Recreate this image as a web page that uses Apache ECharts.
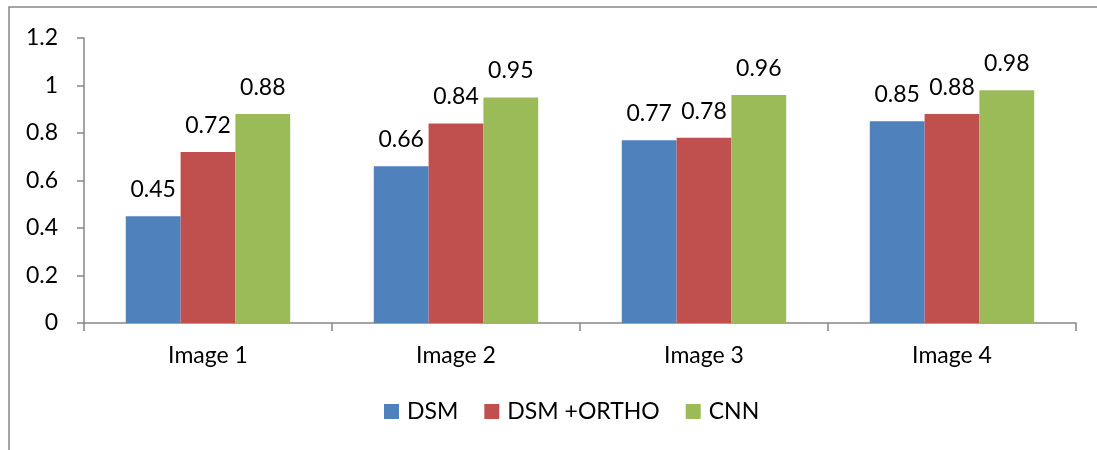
<!DOCTYPE html>
<html>
<head>
<meta charset="utf-8">
<script src="https://cdn.jsdelivr.net/npm/echarts@6/dist/echarts.min.js"></script>
<style>
  html, body { margin: 0; padding: 0; background: #fff; }
  #chart { width: 1097px; height: 450px; }
</style>
</head>
<body>
<div id="chart"></div>
<script>
const categories = ["Image 1", "Image 2", "Image 3", "Image 4"];
const dsm = [0.45, 0.66, 0.77, 0.85];
const dsmOrtho = [0.72, 0.84, 0.78, 0.88];
const cnn = [0.88, 0.95, 0.96, 0.98];

const font = "Lato, 'Open Sans', sans-serif";
const fontSize = 23;
const axisGray = "#868686";

function barSeries(name, data, color) {
  return {
    name,
    type: "bar",
    data,
    barGap: "0%",
    barCategoryGap: "33.7%",
    itemStyle: { color },
    label: {
      show: true,
      position: "top",
      distance: 15,
      color: "#000",
      fontSize,
      fontFamily: font
    }
  };
}

const chart = echarts.init(document.getElementById("chart"));
chart.setOption({
  animation: false,
  graphic: [{
    type: "rect",
    shape: { x: 9, y: 7, width: 1100, height: 460 },
    style: { fill: "none", stroke: axisGray, lineWidth: 1.5 }
  }],
  grid: { left: 84, right: 21, top: 38, bottom: 127 },
  legend: {
    bottom: 22,
    left: 379,
    itemWidth: 15,
    itemHeight: 15,
    itemGap: 26,
    icon: "rect",
    textStyle: { fontSize, fontFamily: font, color: "#000", padding: [0, 0, 0, 3] },
    data: ["DSM", "DSM +ORTHO", "CNN"]
  },
  xAxis: {
    type: "category",
    data: categories,
    axisLine: { lineStyle: { color: axisGray, width: 1.5 } },
    axisTick: { show: true, length: 8, inside: false, lineStyle: { color: axisGray, width: 1.5 } },
    axisLabel: { fontSize, fontFamily: font, color: "#000", margin: 21 }
  },
  yAxis: {
    type: "value",
    min: 0,
    max: 1.2,
    interval: 0.2,
    axisLine: { show: true, lineStyle: { color: axisGray, width: 1.5 } },
    axisTick: { show: true, length: 7, lineStyle: { color: axisGray, width: 1.5 } },
    splitLine: { show: false },
    axisLabel: { fontSize, fontFamily: font, color: "#000", margin: 26 }
  },
  series: [
    barSeries("DSM", dsm, "#4F81BD"),
    barSeries("DSM +ORTHO", dsmOrtho, "#C0504D"),
    barSeries("CNN", cnn, "#9BBB59")
  ]
});
</script>
</body>
</html>
